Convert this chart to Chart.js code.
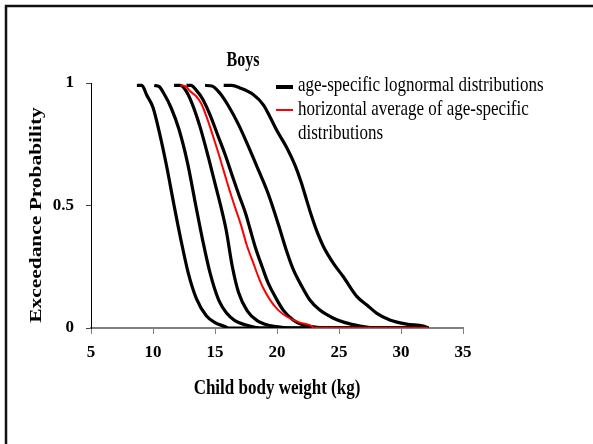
<!DOCTYPE html>
<html>
<head>
<meta charset="utf-8">
<script src="https://cdn.jsdelivr.net/npm/chart.js@4.4.1/dist/chart.umd.min.js"></script>
<style>
  html, body { margin: 0; padding: 0; background: #fff; }
  #wrap { width: 593px; height: 444px; }
</style>
</head>
<body>
<div id="wrap"><canvas id="chart" width="593" height="444"></canvas></div>
<script>
// values: body weight (kg) and exceedance probability
const c1Kg = [8.7, 9.1, 9.5, 10.0, 10.55, 11.1, 11.7, 12.25, 12.85, 13.5, 14.3, 15.0, 15.8, 16.1, 32.2]
const c1Prob = [0.99, 0.99, 0.95, 0.9, 0.79, 0.66, 0.5, 0.36, 0.223, 0.12, 0.05, 0.022, 0.006, 0, 0]

const c2Kg = [10.1, 10.5, 10.9, 11.45, 12.1, 12.8, 13.45, 14.0, 14.6, 15.3, 15.95, 16.6, 17.5, 18.3, 18.6, 32.2]
const c2Prob = [0.99, 0.985, 0.955, 0.9, 0.81, 0.67, 0.5, 0.36, 0.225, 0.114, 0.06, 0.03, 0.012, 0.002, 0, 0]

const c3Kg = [11.7, 12.2, 12.7, 13.2, 13.8, 14.5, 15.05, 15.5, 15.9, 16.4, 16.9, 17.6, 18.4, 19.4, 20.5, 21.0, 32.2]
const c3Prob = [0.99, 0.99, 0.965, 0.91, 0.82, 0.69, 0.58, 0.49, 0.4, 0.25, 0.145, 0.07, 0.03, 0.01, 0.002, 0, 0]

const c4Kg = [12.7, 13.05, 13.5, 14.0, 14.6, 15.2, 15.8, 16.4, 16.95, 17.45, 17.85, 18.25, 18.8, 19.3, 19.85, 20.5, 21.3, 22.1, 23.2, 23.9, 32.2]
const c4Prob = [0.99, 0.99, 0.97, 0.935, 0.87, 0.79, 0.71, 0.62, 0.54, 0.47, 0.4, 0.33, 0.25, 0.182, 0.128, 0.073, 0.033, 0.012, 0.003, 0, 0]

const c5Kg = [14.2, 14.75, 15.4, 16.1, 16.9, 17.7, 18.5, 19.2, 19.75, 20.25, 20.8, 21.3, 22.0, 22.65, 23.45, 24.55, 25.5, 26.7, 27.5, 28.0, 32.2]
const c5Prob = [0.99, 0.988, 0.958, 0.905, 0.83, 0.74, 0.645, 0.56, 0.48, 0.4, 0.31, 0.24, 0.17, 0.114, 0.073, 0.04, 0.022, 0.008, 0.002, 0, 0]

const c6Kg = [15.7, 16.35, 17.0, 18.1, 18.9, 19.45, 20.0, 20.8, 21.45, 21.95, 22.4, 22.8, 23.25, 23.75, 24.55, 25.35, 26.45, 27.25, 28.05, 29.1, 30.45, 31.8, 32.2]
const c6Prob = [0.99, 0.99, 0.98, 0.952, 0.911, 0.86, 0.805, 0.735, 0.665, 0.595, 0.52, 0.455, 0.39, 0.332, 0.264, 0.209, 0.128, 0.094, 0.06, 0.033, 0.016, 0.008, 0]

const avgKg = [12.2, 12.6, 13.0, 13.5, 13.9, 14.3, 14.8, 15.3, 15.8, 16.25, 16.7, 17.1, 17.55, 18.1, 18.5, 18.9, 19.45, 20.1, 20.8, 21.85, 22.65, 23.05, 32.2]
const avgProb = [0.99, 0.987, 0.966, 0.945, 0.915, 0.865, 0.79, 0.71, 0.625, 0.55, 0.48, 0.42, 0.34, 0.264, 0.209, 0.162, 0.114, 0.073, 0.046, 0.022, 0.012, 0, 0]

const xTicks = [5, 10, 15, 20, 25, 30, 35]
const yTicks = [0, 0.5, 1]
const legendLabels = ['age-specific lognormal distributions', 'horizontal average of age-specific distributions']

const serif = "'Liberation Serif', 'Times New Roman', serif"
const toPoints = (xs, ys) => xs.map((x, i) => ({ x, y: ys[i] }))

const blackCurves = [[c1Kg, c1Prob], [c2Kg, c2Prob], [c3Kg, c3Prob], [c4Kg, c4Prob], [c5Kg, c5Prob], [c6Kg, c6Prob]]

const datasets = blackCurves.map(([xs, ys], i) => ({
  label: i === 0 ? legendLabels[0] : '',
  data: toPoints(xs, ys),
  borderColor: '#000',
  borderWidth: 3.2,
  pointRadius: 0,
  cubicInterpolationMode: 'monotone',
  order: 1,
}))
datasets.push({
  label: legendLabels[1],
  data: toPoints(avgKg, avgProb),
  borderColor: '#ff0000',
  borderWidth: 2,
  pointRadius: 0,
  cubicInterpolationMode: 'monotone',
  order: 0,
})

// text stretched like the scanned figure
function stretchedText(ctx, text, x, y, font, align, sx, sy) {
  ctx.save()
  ctx.translate(x, y)
  ctx.scale(sx, sy)
  ctx.font = font
  ctx.textAlign = align
  ctx.textBaseline = 'alphabetic'
  ctx.fillStyle = '#000'
  ctx.fillText(text, 0, 0)
  ctx.restore()
}

const overlay = {
  id: 'overlay',
  afterDraw(chart) {
    const { ctx } = chart
    ctx.save()
    // frame, only top and left edges visible
    ctx.strokeStyle = '#111'
    ctx.lineWidth = 2.5
    ctx.beginPath()
    ctx.moveTo(6, 444)
    ctx.lineTo(6, 6)
    ctx.lineTo(593, 6)
    ctx.stroke()

    stretchedText(ctx, 'Boys', 243, 66, `bold 16px ${serif}`, 'center', 1, 1.25)

    // legend
    ctx.lineCap = 'butt'
    ctx.strokeStyle = '#000'
    ctx.lineWidth = 4
    ctx.beginPath(); ctx.moveTo(276, 87); ctx.lineTo(293, 87); ctx.stroke()
    ctx.strokeStyle = '#ff0000'
    ctx.lineWidth = 2
    ctx.beginPath(); ctx.moveTo(276, 110); ctx.lineTo(293, 110); ctx.stroke()
    const legFont = `17px ${serif}`
    stretchedText(ctx, legendLabels[0], 298, 91, legFont, 'left', 1, 1.25)
    stretchedText(ctx, 'horizontal average of age-specific', 298, 115, legFont, 'left', 1, 1.25)
    stretchedText(ctx, 'distributions', 298, 139, legFont, 'left', 1, 1.25)

    // axis titles
    stretchedText(ctx, 'Child body weight (kg)', 277, 394, `bold 17px ${serif}`, 'center', 1, 1.25)
    ctx.save()
    ctx.translate(41, 215)
    ctx.rotate(-Math.PI / 2)
    stretchedText(ctx, 'Exceedance Probability', 0, 0, `bold 17px ${serif}`, 'center', 1.26, 1)
    ctx.restore()
    ctx.restore()
  },
}

new Chart(document.getElementById('chart'), {
  type: 'line',
  data: { datasets },
  plugins: [overlay],
  options: {
    responsive: false,
    devicePixelRatio: 1,
    animation: false,
    events: [],
    layout: { padding: { top: 83, right: 130, left: 0, bottom: 0 } },
    plugins: { legend: { display: false }, title: { display: false }, tooltip: { enabled: false } },
    scales: {
      x: {
        type: 'linear',
        min: 5,
        max: 35,
        afterFit: (scale) => { scale.height = 116 },
        afterBuildTicks: (scale) => { scale.ticks = xTicks.map((v) => ({ value: v })) },
        border: { color: '#808080', width: 2 },
        grid: { drawOnChartArea: false, drawTicks: true, tickLength: 6, color: '#808080' },
        ticks: { color: '#000', padding: 8, font: { family: serif, size: 17, weight: 'bold' }, callback: (v) => String(v) },
      },
      y: {
        min: 0,
        max: 1,
        afterFit: (scale) => { scale.width = 91 },
        afterBuildTicks: (scale) => { scale.ticks = yTicks.map((v) => ({ value: v })) },
        border: { color: '#000', width: 1 },
        grid: { drawOnChartArea: false, drawTicks: true, tickLength: 5, color: '#444' },
        ticks: { color: '#000', padding: 12, font: { family: serif, size: 17, weight: 'bold' }, callback: (v) => String(v) },
      },
    },
  },
})
</script>
</body>
</html>
